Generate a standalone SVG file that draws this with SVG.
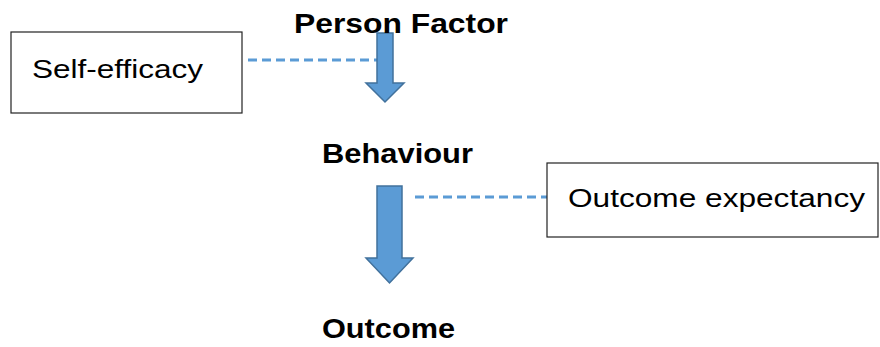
<svg xmlns="http://www.w3.org/2000/svg" width="880" height="347" viewBox="0 0 880 347">
<style>
.box{fill:#fff;stroke:#222;stroke-width:1.2}
.arrow{fill:#5B9BD5;stroke:#41719C;stroke-width:1.5}
.dash{fill:none;stroke:#5B9BD5;stroke-width:3;stroke-dasharray:9 5}
.t{font-family:"Liberation Sans",Arial,sans-serif;font-size:26px;fill:#000}
.b{font-family:"Liberation Sans",Arial,sans-serif;font-size:28px;font-weight:bold;fill:#000}
</style>
<rect width="880" height="347" fill="#fff"/>
<g id="connectors">
<line class="dash" x1="248" y1="60" x2="377" y2="60"/>
<line class="dash" x1="415" y1="197" x2="548" y2="197"/>
<polygon class="arrow" points="377,33 393,33 393,83 404,83 385,102 366,83 377,83"/>
<polygon class="arrow" points="377,186 402,186 402,258 413,258 389.5,283 366,258 377,258"/>
</g>
<g id="person-factor"><text class="b" x="294" y="33" textLength="214" lengthAdjust="spacingAndGlyphs">Person Factor</text></g>
<g id="behaviour"><text class="b" x="322" y="163" textLength="151" lengthAdjust="spacingAndGlyphs">Behaviour</text></g>
<g id="outcome"><text class="b" x="322" y="338" textLength="133" lengthAdjust="spacingAndGlyphs">Outcome</text></g>
<g id="self-efficacy">
<rect class="box" x="11" y="32" width="231" height="81"/>
<text class="t" x="32" y="78" textLength="171" lengthAdjust="spacingAndGlyphs">Self-efficacy</text>
</g>
<g id="outcome-expectancy">
<rect class="box" x="547" y="163" width="331" height="74"/>
<text class="t" x="568" y="207" textLength="297" lengthAdjust="spacingAndGlyphs">Outcome expectancy</text>
</g>
</svg>
